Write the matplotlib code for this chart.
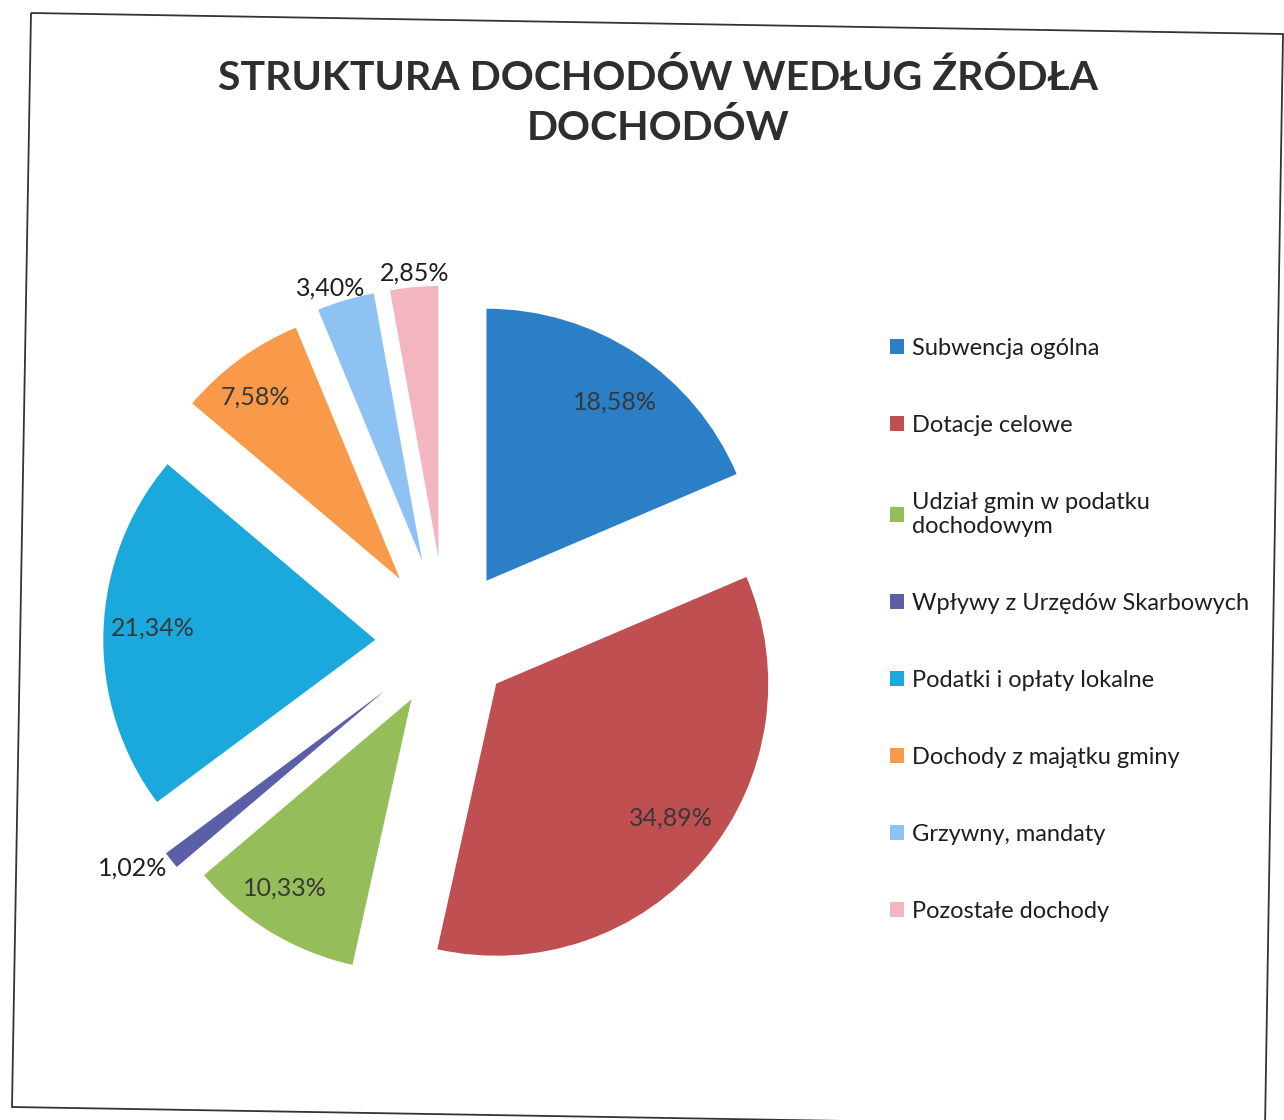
import matplotlib.pyplot as plt
from matplotlib.patches import Polygon
import numpy as np

plt.rcParams['font.family'] = ['Lato', 'DejaVu Sans']

# dane z wykresu
categories = ['Subwencja ogólna', 'Dotacje celowe', 'Udział gmin w podatku\ndochodowym',
              'Wpływy z Urzędów Skarbowych', 'Podatki i opłaty lokalne',
              'Dochody z majątku gminy', 'Grzywny, mandaty', 'Pozostałe dochody']
shares = [18.58, 34.89, 10.33, 1.02, 21.34, 7.58, 3.40, 2.85]
colors = ['#2a7fc6', '#c04f52', '#95bd5a', '#5a5fa8', '#1ba8dc', '#f89a4a', '#8ec2f2', '#f3b5c0']

explode = [0.27, 0.24, 0.246, 0.29, 0.26, 0.287, 0.31, 0.31]
# polozenie etykiet: odleglosc od srodka wycinka i obrot (stopnie)
label_dist = [0.81, 0.81, 0.835, 1.13, 0.82, 0.855, 1.06, 1.05]
label_turn = [-2.3, 2.0, -2.8, -3.4, -1.2, 2.3, 2.2, -0.4]
inside = [True, True, True, False, True, True, False, False]

W, H = 1284, 1120
fig = plt.figure(figsize=(W / 100, H / 100), dpi=100)

# pie centre (px) and radius (px)
cx, cy, rad = 446, 642, 272
lim = 1.6
half = lim * rad
ax = fig.add_axes([(cx - half) / W, (H - cy - half) / H, 2 * half / W, 2 * half / H])

wedges, _ = ax.pie(shares, colors=colors, startangle=90, counterclock=False,
                   explode=explode, radius=1)
ax.set_xlim(-lim, lim)
ax.set_ylim(-lim, lim)
ax.set_aspect('equal')
ax.axis('off')

for i, w in enumerate(wedges):
    th = np.deg2rad((w.theta1 + w.theta2) / 2 + label_turn[i])
    x0, y0 = w.center
    d = label_dist[i]
    txt = f"{shares[i]:.2f}".replace('.', ',') + '%'
    ax.text(x0 + d * np.cos(th), y0 + d * np.sin(th), txt, ha='center', va='center',
            fontsize=18, color='#383838' if inside[i] else '#1e1e1e')

fig.text(0.5125, (H - 103) / H, 'STRUKTURA DOCHODÓW WEDŁUG ŹRÓDŁA\nDOCHODÓW',
         ha='center', va='center', fontsize=29.5, fontweight='bold', color='#2e2e2e',
         linespacing=1.38)

leg = ax.legend(wedges, categories, loc='upper left', bbox_to_anchor=(890 / W, (H - 338) / H),
                bbox_transform=fig.transFigure, frameon=False, fontsize=17,
                handlelength=0.6, handleheight=0.6, handletextpad=0.35,
                labelspacing=2.37, borderpad=0, borderaxespad=0)
for t in leg.get_texts():
    t.set_color('#1e1e1e')

# ramka wykresu (skan lekko przekrzywiony)
frame = [(31, 13), (1283, 34), (1265, 1128), (12, 1107)]
fig.add_artist(Polygon([(x / W, 1 - y / H) for x, y in frame], closed=True, fill=False,
                       edgecolor='#333333', linewidth=1.3, transform=fig.transFigure))

fig.savefig('out.png', dpi=100, facecolor='white')
